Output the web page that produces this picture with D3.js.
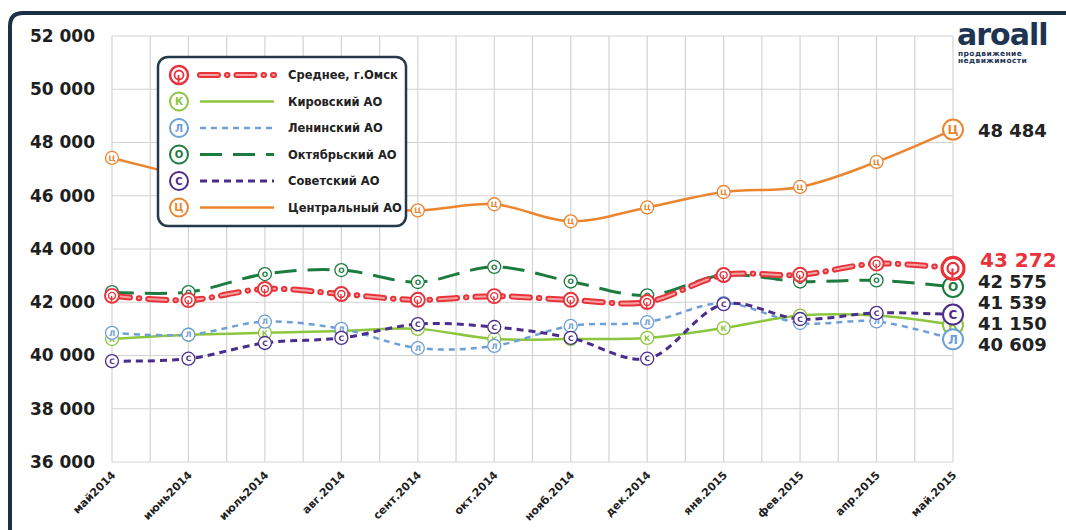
<!DOCTYPE html>
<html>
<head>
<meta charset="utf-8">
<script src="https://cdn.jsdelivr.net/npm/d3@7"></script>
<style>
  body { margin: 0; background: #fff; }
  svg text { font-family: "DejaVu Sans", Verdana, sans-serif; font-weight: bold; }
</style>
</head>
<body>
<svg id="chart"></svg>
<script>
var months = ["май2014", "июнь2014", "июль2014", "авг.2014", "сент.2014", "окт.2014",
  "нояб.2014", "дек.2014", "янв.2015", "фев.2015", "апр.2015", "май.2015"];
var yTicks = [36000, 38000, 40000, 42000, 44000, 46000, 48000, 50000, 52000];

var avgOmsk    = [42240, 42080, 42500, 42310, 42090, 42230, 42090, 42010, 43020, 43030, 43450, 43272];
var kirovsky   = [40620, 40780, 40850, 40920, 41000, 40620, 40620, 40660, 41030, 41500, 41500, 41150];
var leninsky   = [40850, 40780, 41270, 41000, 40280, 40360, 41110, 41250, 41970, 41220, 41280, 40609];
var oktyabrsky = [42380, 42380, 43060, 43210, 42760, 43330, 42780, 42260, 43020, 42780, 42820, 42575];
var sovetsky   = [39790, 39880, 40470, 40660, 41180, 41070, 40660, 39880, 41930, 41370, 41600, 41539];
var tsentralny = [47420, 46700, 46000, 45600, 45450, 45680, 45040, 45560, 46140, 46330, 47270, 48484];

var seriesNames = ["Среднее, г.Омск", "Кировский АО", "Ленинский АО", "Октябрьский АО", "Советский АО", "Центральный АО"];
var seriesLetters = ["", "К", "Л", "О", "С", "Ц"];

var width = 1066, height = 530;
var colors = ["#e8333b", "#8cc63f", "#6e9fd6", "#1c7b3f", "#4b2d8b", "#ec8530"];

var series = [
  { name: seriesNames[0], letter: seriesLetters[0], values: avgOmsk, color: colors[0], red: true },
  { name: seriesNames[1], letter: seriesLetters[1], values: kirovsky, color: colors[1], width: 2.5, dash: null },
  { name: seriesNames[2], letter: seriesLetters[2], values: leninsky, color: colors[2], width: 2.5, dash: "6,5" },
  { name: seriesNames[3], letter: seriesLetters[3], values: oktyabrsky, color: colors[3], width: 3, dash: "22,11" },
  { name: seriesNames[4], letter: seriesLetters[4], values: sovetsky, color: colors[4], width: 3, dash: "7,5" },
  { name: seriesNames[5], letter: seriesLetters[5], values: tsentralny, color: colors[5], width: 2.5, dash: null }
];

var svg = d3.select("#chart").attr("width", width).attr("height", height);

// frame
svg.append("path")
  .attr("d", "M10,535 L10,26 Q10,13 23,13 L1070,13")
  .attr("fill", "none")
  .attr("stroke", "#1d3045")
  .attr("stroke-width", 4);

var xScale = d3.scalePoint().domain(months).range([112, 953]);
var yScale = d3.scaleLinear().domain([36000, 52000]).range([462, 36]);

// grid
var step = xScale.step();
var vLines = [];
months.forEach(function (m, i) {
  vLines.push(xScale(m));
  if (i < months.length - 1) vLines.push(xScale(m) + step / 2);
});
svg.append("g").selectAll("line").data(vLines).enter().append("line")
  .attr("x1", (d) => d).attr("x2", (d) => d)
  .attr("y1", yScale(52000)).attr("y2", yScale(36000))
  .attr("stroke", "#d3d3d3").attr("stroke-width", 1.2);
svg.append("g").selectAll("line").data(yTicks).enter().append("line")
  .attr("x1", 112).attr("x2", 953)
  .attr("y1", (d) => yScale(d)).attr("y2", (d) => yScale(d))
  .attr("stroke", "#d3d3d3").attr("stroke-width", 1.2);

// y axis labels
var fmt = (v) => d3.format(",")(v).replace(/,/g, " ");
var yAxis = svg.append("g")
  .attr("transform", "translate(95,0)")
  .call(d3.axisLeft(yScale).tickValues(yTicks).tickSize(0).tickPadding(0).tickFormat(fmt));
yAxis.select(".domain").remove();
yAxis.selectAll("text")
  .style("font-family", "'DejaVu Sans', sans-serif")
  .style("font-weight", "bold")
  .style("font-size", "17px")
  .attr("fill", "#1e1e1e");

// x axis labels
var xAxis = svg.append("g")
  .attr("transform", "translate(0,473)")
  .call(d3.axisBottom(xScale).tickSize(0).tickPadding(0));
xAxis.select(".domain").remove();
xAxis.selectAll("text")
  .style("font-family", "'DejaVu Sans', sans-serif")
  .style("font-weight", "bold")
  .style("font-size", "11px")
  .attr("fill", "#1e1e1e")
  .attr("text-anchor", "end")
  .attr("dy", "0.35em")
  .attr("transform", "translate(1,0) rotate(-45)");

var line = d3.line()
  .x((d, i) => xScale(months[i]))
  .y((d) => yScale(d))
  .curve(d3.curveCatmullRom.alpha(0.5));

function redMark(g, r) {
  g.append("circle").attr("r", r).attr("fill", "#fff")
    .attr("stroke", colors[0]).attr("stroke-width", r * 0.28);
  g.append("circle").attr("r", r * 0.5).attr("fill", "none")
    .attr("stroke", colors[0]).attr("stroke-width", r * 0.2);
  g.append("line").attr("x1", -r * 0.05).attr("x2", -r * 0.05).attr("y1", 0).attr("y2", r * 0.85)
    .attr("stroke", colors[0]).attr("stroke-width", r * 0.2);
}

function letterMark(g, s, r, fs) {
  g.append("circle").attr("r", r).attr("fill", "#fff")
    .attr("stroke", s.color).attr("stroke-width", r > 7 ? 2 : 1.3);
  g.append("text").attr("text-anchor", "middle").attr("dy", "0.36em")
    .style("font-size", fs + "px").attr("fill", s.color).text(s.letter);
}

function drawLine(g, s, data) {
  if (s.red) {
    g.append("path").attr("d", data).attr("fill", "none")
      .attr("stroke", s.color).attr("stroke-width", 6)
      .attr("stroke-dasharray", "18,9,0.5,9").attr("stroke-linecap", "round");
    g.append("path").attr("d", data).attr("fill", "none")
      .attr("stroke", "#f4a3a3").attr("stroke-width", 2)
      .attr("stroke-dasharray", "18,9,0.5,9").attr("stroke-linecap", "round");
  } else {
    g.append("path").attr("d", data).attr("fill", "none")
      .attr("stroke", s.color).attr("stroke-width", s.width)
      .attr("stroke-dasharray", s.dash);
  }
}

// series lines, drawn back to front
var order = [5, 1, 2, 4, 3, 0];
order.forEach(function (k) {
  var s = series[k];
  var g = svg.append("g");
  drawLine(g, s, line(s.values));
  s.values.forEach(function (v, i) {
    var last = i === s.values.length - 1;
    var m = g.append("g").attr("transform", "translate(" + xScale(months[i]) + "," + yScale(v) + ")");
    if (s.red) redMark(m, last ? 11 : 7);
    else letterMark(m, s, last ? 10 : 6.5, last ? 12 : 7.5);
  });
});

// value labels on the right
var labelY = { 5: 131, 0: 260, 3: 282, 4: 303, 1: 324, 2: 345 };
[5, 0, 3, 4, 1, 2].forEach(function (k) {
  var s = series[k];
  svg.append("text")
    .attr("x", s.red ? 980 : 978)
    .attr("y", labelY[k])
    .attr("dy", "0.36em")
    .style("font-size", s.red ? "20px" : "18px")
    .attr("fill", s.red ? colors[0] : "#222")
    .text(fmt(s.values[s.values.length - 1]));
});

// legend
var legend = svg.append("g").attr("transform", "translate(158,57)");
legend.append("rect").attr("width", 248).attr("height", 169).attr("rx", 10)
  .attr("fill", "#fff").attr("stroke", "#26384b").attr("stroke-width", 2.5);
series.forEach(function (s, i) {
  var row = legend.append("g").attr("transform", "translate(0," + (18 + i * 26.5) + ")");
  var m = row.append("g").attr("transform", "translate(21,0)");
  if (s.red) redMark(m, 9);
  else letterMark(m, s, 9, 10);
  drawLine(row, s, "M" + 42 + ",0L" + 116 + ",0");
  row.append("text").attr("x", 130).attr("dy", "0.36em")
    .style("font-size", "11.5px").attr("fill", "#222").text(s.name);
});

// logo
var logo = svg.append("g").attr("transform", "translate(957,0)");
logo.append("text").attr("x", 0).attr("y", 45)
  .style("font-size", "30px").style("font-family", "'DejaVu Sans', sans-serif")
  .attr("fill", "#1d3452").attr("letter-spacing", "-1").text("aroall");
logo.append("text").attr("x", 1).attr("y", 56)
  .style("font-size", "7.5px").attr("fill", "#1d3452").attr("letter-spacing", "0.4").text("продвижение");
logo.append("text").attr("x", 1).attr("y", 63)
  .style("font-size", "7.5px").attr("fill", "#1d3452").attr("letter-spacing", "0.4").text("недвижимости");
</script>
</body>
</html>
